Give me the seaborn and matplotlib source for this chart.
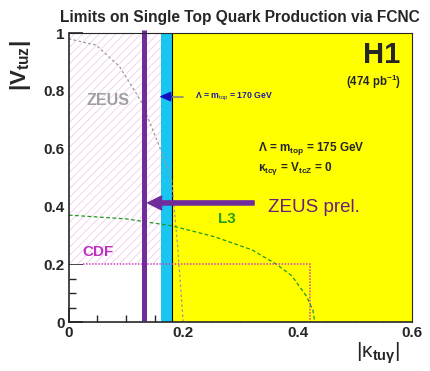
import numpy as np
import pandas as pd
import matplotlib
matplotlib.use('Agg')
import matplotlib.pyplot as plt
import seaborn as sns
from matplotlib.ticker import MultipleLocator

# exclusion curves
zeus_x = [0.0, 0.048, 0.089, 0.127, 0.163, 0.180, 0.190, 0.200]
zeus_y = [0.98, 0.958, 0.883, 0.762, 0.585, 0.49, 0.27, 0.0]

l3_x = [0.0, 0.10, 0.18, 0.255, 0.32, 0.363, 0.39, 0.416, 0.427, 0.430]
l3_y = [0.37, 0.357, 0.333, 0.295, 0.25, 0.20, 0.16, 0.088, 0.04, 0.0]

cdf_x = [0.024, 0.422, 0.422]
cdf_y = [0.2, 0.2, 0.0]

zeus_prel_k = 0.131          # ZEUS prel. limit on kappa
h1_band = (0.161, 0.180)     # H1 limit for m_top 170 .. 175 GeV
h1_lim = 0.180
zeus_hatch = (0.161, 0.2)    # kappa limit, V limit of CDF

ticks = [0, 0.2, 0.4, 0.6, 0.8, 1]
tick_labels = ['0', '0.2', '0.4', '0.6', '0.8', '1']

sns.set_theme(style='ticks')
plt.rcParams['font.family'] = ['Liberation Sans', 'DejaVu Sans']
plt.rcParams['mathtext.fontset'] = 'custom'
plt.rcParams['mathtext.rm'] = 'Liberation Sans'
plt.rcParams['mathtext.bf'] = 'Liberation Sans:bold'
plt.rcParams['mathtext.it'] = 'Liberation Sans:italic'
plt.rcParams['hatch.linewidth'] = 0.6
plt.rcParams['hatch.color'] = '#f2cdf0'

fig = plt.figure(figsize=(4.30, 3.71), dpi=100)
ax = fig.add_axes([0.160, 0.132, 0.798, 0.779])

# regions
ax.fill_between([0, zeus_hatch[0]], zeus_hatch[1], 1, facecolor='white',
                hatch='////', edgecolor='#f2cdf0', linewidth=0)
ax.axvspan(h1_band[0], h1_band[1], color='#19c6f2', lw=0)
ax.axvspan(h1_lim, 0.6, color='#ffff00', lw=0)
ax.axvline(h1_lim, color='black', lw=0.8)

# curves
sns.lineplot(x=zeus_x, y=zeus_y, ax=ax, color='#999999', lw=0.9,
             linestyle=(0, (2, 2)), sort=False, estimator=None)
sns.lineplot(x=l3_x, y=l3_y, ax=ax, color='#1f9a1f', lw=0.9,
             linestyle=(0, (3, 2)), sort=False, estimator=None)
sns.lineplot(x=cdf_x, y=cdf_y, ax=ax, color='#d040c0', lw=1.1,
             linestyle=(0, (1, 1)), sort=False, estimator=None)

ax.plot([zeus_prel_k, zeus_prel_k], [0.005, 1.01], color='#6f2d9c', lw=3.6,
        solid_capstyle='butt', clip_on=False)

# arrows
ax.annotate('', xy=(0.138, 0.412), xytext=(0.324, 0.412),
            arrowprops=dict(facecolor='#6f2d9c', edgecolor='#6f2d9c',
                            width=3.0, headwidth=10, headlength=10))
ax.plot([0.178, 0.199], [0.78, 0.78], color='#888888', lw=1.2)
ax.annotate('', xy=(0.161, 0.78), xytext=(0.179, 0.78),
            arrowprops=dict(facecolor='#1010c0', edgecolor='#1010c0',
                            width=0.8, headwidth=6, headlength=7))

# texts
ax.text(0.031, 0.768, 'ZEUS', color='#a0a0a0', fontsize=11.5,
        fontweight='bold', va='center')
ax.text(0.024, 0.243, 'CDF', color='#c030c0', fontsize=11,
        fontweight='bold', va='center')
ax.text(0.261, 0.356, 'L3', color='#2aa010', fontsize=11,
        fontweight='bold', va='center')
ax.text(0.348, 0.398, 'ZEUS prel.', color='#6a1f7a', fontsize=13.5,
        va='center')
ax.text(0.221, 0.78, r'Λ = m$_{\mathrm{top}}$ = 170 GeV',
        color='#1a1aa0', fontsize=6.2, fontweight='bold', va='center')
ax.text(0.579, 0.925, 'H1', fontsize=21, fontweight='bold', ha='right',
        va='center')
ax.text(0.582, 0.832, r'(474 pb$^{\mathbf{-1}}$)', fontsize=8.3,
        fontweight='bold', ha='right', va='center')
ax.text(0.331, 0.60, r'Λ = m$_{\mathbf{top}}$ = 175 GeV',
        fontsize=8.5, fontweight='bold', va='center')
ax.text(0.331, 0.53, r'κ$_{\mathbf{tcγ}}$ = V$_{\mathbf{tcZ}}$ = 0',
        fontsize=8.5, fontweight='bold', va='center')

# axes
ax.set_xlim(0, 0.6)
ax.set_ylim(0, 1)
ax.set_xticks(ticks[:4], labels=tick_labels[:4], fontweight='bold', fontsize=11)
ax.set_yticks(ticks, labels=tick_labels, fontweight='bold', fontsize=11)
ax.xaxis.set_minor_locator(MultipleLocator(0.05))
ax.yaxis.set_minor_locator(MultipleLocator(0.05))
ax.tick_params(which='major', direction='in', length=10, width=1.2, pad=3)
ax.tick_params(which='minor', direction='in', length=5, width=1.0)
for sp in ax.spines.values():
    sp.set_linewidth(1.2)
    sp.set_visible(True)
ax.spines['top'].set_linewidth(0.8)
ax.spines['right'].set_linewidth(0.8)

ax.text(0.965, -0.107, r'|κ$_{\mathbf{tuγ}}$|', fontsize=15,
        ha='right', va='center', transform=ax.transAxes)
ax.text(-0.14, 0.975, r'|V$_{\mathbf{tuz}}$|', fontsize=16, fontweight='bold',
        rotation=90, ha='center', va='top', transform=ax.transAxes)

ax.set_title('Limits on Single Top Quark Production via FCNC', fontsize=11.2,
             fontweight='bold', pad=8)

fig.savefig('out.png', dpi=100)
